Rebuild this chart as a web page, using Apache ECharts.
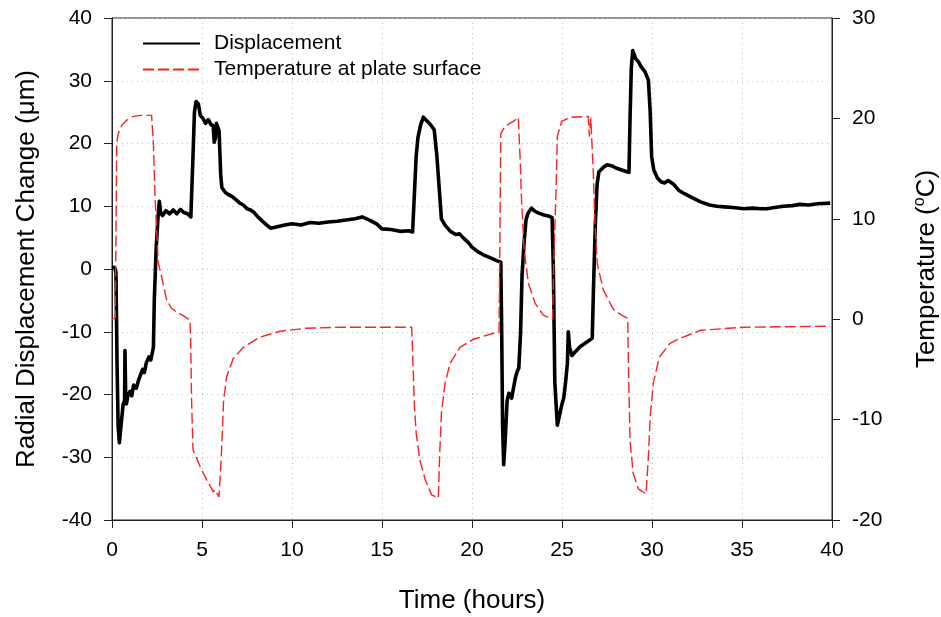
<!DOCTYPE html>
<html>
<head>
<meta charset="utf-8">
<title>Radial displacement and plate temperature</title>
<script src="https://cdn.jsdelivr.net/npm/echarts@6/dist/echarts.min.js"></script>
<style>
  html, body { margin: 0; padding: 0; background: #fff; }
  #chart { width: 941px; height: 617px; }
</style>
</head>
<body>
<div id="chart"></div>
<script>
// Displacement record (hours, µm)
const dispTime = [
  0.00, 0.15, 0.22, 0.28, 0.34, 0.41, 0.50, 0.62, 0.70, 0.72, 0.76, 0.80, 0.90, 1.00, 1.10, 1.20, 1.35, 1.50, 1.70, 1.80,
  1.90, 2.05, 2.15, 2.25, 2.30, 2.35, 2.45, 2.55, 2.63, 2.70, 2.80, 3.00, 3.20, 3.40, 3.60, 3.80, 4.00, 4.20, 4.38, 4.43,
  4.50, 4.58, 4.67, 4.80, 4.90, 5.05, 5.20, 5.35, 5.50, 5.62, 5.68, 5.75, 5.80, 5.90, 5.95, 6.04, 6.10, 6.30, 6.50, 6.70,
  6.90, 7.10, 7.30, 7.50, 7.70, 7.90, 8.10, 8.40, 8.60, 8.80, 9.00, 9.30, 9.60, 10.0, 10.5, 11.0, 11.5, 12.0, 12.5, 13.0,
  13.5, 13.9, 14.3, 14.7, 15.0, 15.5, 16.0, 16.5, 16.7, 16.8, 16.9, 17.0, 17.15, 17.3, 17.5, 17.7, 17.9, 18.05, 18.2, 18.3,
  18.5, 18.8, 19.1, 19.3, 19.5, 19.8, 20.0, 20.3, 20.6, 21.0, 21.4, 21.6, 21.65, 21.7, 21.76, 21.85, 21.95, 22.05, 22.2, 22.3,
  22.4, 22.5, 22.6, 22.7, 22.78, 22.9, 23.0, 23.1, 23.3, 23.5, 23.7, 24.0, 24.3, 24.45, 24.52, 24.6, 24.74, 24.85, 25.0, 25.1,
  25.2, 25.3, 25.35, 25.42, 25.55, 25.7, 26.0, 26.3, 26.55, 26.68, 26.75, 26.85, 26.95, 27.05, 27.3, 27.5, 27.8, 28.0, 28.2, 28.4,
  28.6, 28.72, 28.78, 28.85, 28.93, 29.1, 29.25, 29.4, 29.6, 29.8, 29.9, 29.98, 30.1, 30.3, 30.5, 30.7, 30.9, 31.0, 31.2, 31.5,
  31.8, 32.2, 32.7, 33.2, 33.6, 34.0, 34.5, 35.1, 35.6, 36.0, 36.4, 36.8, 37.3, 37.8, 38.2, 38.7, 39.2, 39.9
];
const dispValue = [
  0.3, 0.2, -0.5, -15, -25, -27.7, -25, -21.5, -21, -13, -20, -21.5, -20, -19.5, -20.2, -18.5, -19, -17.5, -16, -16.5,
  -15, -14, -14.5, -13.2, -12.5, -5, 3, 8, 10.8, 9, 8.5, 9.3, 8.8, 9.4, 8.8, 9.5, 9.0, 8.8, 8.3, 8.5,
  18, 25, 26.7, 26.3, 24.5, 24.0, 23.2, 23.8, 23.0, 22.8, 20.2, 21, 23.2, 23.5, 22, 15, 13, 12.2, 11.8, 11.5,
  11.0, 10.5, 10.2, 9.6, 9.4, 9, 8.3, 7.5, 7.0, 6.5, 6.6, 6.8, 7.0, 7.2, 7.0, 7.4, 7.3, 7.5, 7.6, 7.8,
  8.0, 8.3, 7.8, 7.2, 6.4, 6.3, 6.0, 6.1, 5.9, 12, 18, 21, 23, 24.2, 23.6, 23, 22.2, 18, 12, 8,
  7, 6.0, 5.5, 5.6, 5.0, 4.2, 3.5, 2.8, 2.3, 1.8, 1.3, 1.1, -10, -25, -31.2, -27, -21, -19.8, -20.6, -20.4,
  -17.5, -16.4, -15.8, -10, -1, 4.5, 7.8, 8.8, 9.7, 9.2, 8.9, 8.6, 8.4, 8.2, 0, -18, -24.9, -23.5, -21.5, -20.5,
  -18, -15, -10, -12.5, -13.8, -13.3, -12.4, -11.8, -11.3, -11, -3, 7, 13.5, 15.5, 16.2, 16.6, 16.4, 16.1, 15.9, 15.7,
  15.5, 15.4, 24, 32, 34.8, 33.5, 33, 32.2, 31.5, 30.1, 25, 17.9, 15.8, 14.5, 13.9, 13.7, 14.1, 14.2, 13.5, 12.5,
  12.0, 11.4, 10.7, 10.2, 10.0, 9.9, 9.8, 9.6, 9.7, 9.6, 9.6, 9.8, 10.0, 10.1, 10.3, 10.2, 10.4, 10.5
];

// Plate surface temperature (hours, °C)
const tempTime = [
  0.00, 0.18, 0.22, 0.26, 0.35, 0.54, 0.80, 1.17, 1.60, 2.20, 2.30, 2.39, 2.57, 2.76, 3.04, 3.30, 3.60, 4.00, 4.33, 4.37,
  4.42, 4.50, 4.90, 5.26, 5.63, 5.72, 5.94, 6.00, 6.09, 6.20, 6.37, 6.74, 7.30, 8.20, 9.33, 10.8, 12.7, 14.9, 16.65, 16.74,
  16.8, 16.9, 17.1, 17.4, 17.76, 18.13, 18.2, 18.3, 18.5, 18.78, 19.33, 20.07, 21.2, 21.5, 21.55, 21.6, 21.83, 22.1, 22.3, 22.57,
  22.67, 22.76, 22.9, 23.13, 23.5, 23.96, 24.48, 24.55, 24.67, 24.74, 24.98, 25.44, 26.46, 26.52, 26.6, 26.66, 26.74, 26.83, 26.96, 27.3,
  27.85, 28.3, 28.65, 28.7, 28.78, 28.96, 29.24, 29.67, 29.8, 29.9, 30.07, 30.4, 31.0, 31.56, 32.7, 35.1, 39.9
];
const tempValue = [
  0.0, 0.1, 8, 17.5, 18.5, 19.3, 19.8, 20.2, 20.3, 20.3, 17.5, 12.2, 5.6, 4.2, 1.9, 1.1, 0.7, 0.3, -0.1, -2,
  -8, -13.0, -14.7, -16.0, -17.2, -17.0, -17.7, -16, -13.0, -8.1, -5.7, -3.9, -2.8, -1.8, -1.2, -0.9, -0.8, -0.8, -0.8, -5.4,
  -8.7, -11.4, -14.0, -16.0, -17.5, -17.8, -13.7, -9.4, -6.4, -4.4, -2.8, -2.0, -1.4, -1.3, 8, 18.5, 19.2, 19.5, 19.7, 20.1,
  16.2, 11.5, 6.9, 3.6, 1.6, 0.4, 0.0, 6.2, 12.8, 18.2, 19.7, 20.1, 20.2, 18.2, 20.0, 20.0, 14.5, 9.5, 5.5, 2.9,
  1.0, 0.4, 0.1, -5.4, -12.1, -15.4, -16.9, -17.4, -13.7, -9.7, -6.4, -3.8, -2.4, -1.9, -1.1, -0.8, -0.7
];

const FONT = "'Liberation Sans', Arial, sans-serif";
const zip = (xs, ys) => xs.map((x, i) => [x, ys[i]]);

const gridDots = { show: true, lineStyle: { color: '#bdbdbd', width: 1, type: [1, 4] } };
const axisBlack = { show: true, onZero: false, lineStyle: { color: '#222', width: 1 } };
const tickOut = { show: true, inside: false, length: 8, lineStyle: { color: '#222', width: 1 } };
const tickText = { color: '#000', fontFamily: FONT, fontSize: 21 };

const chart = echarts.init(document.getElementById('chart'), null, { renderer: 'canvas' });
chart.setOption({
  backgroundColor: '#fff',
  animation: false,
  grid: {
    left: 112, right: 109, top: 18, bottom: 97,
    show: true, borderColor: '#222', borderWidth: 1,
    containLabel: false, outerBoundsMode: 'none'
  },
  legend: {
    orient: 'vertical', left: 142, top: 33, padding: 0,
    itemWidth: 57, itemHeight: 14, itemGap: 5,
    itemStyle: { opacity: 0 },
    data: ['Displacement', 'Temperature at plate surface'],
    textStyle: { color: '#000', fontFamily: FONT, fontSize: 21, padding: [0, 0, 0, 9] }
  },
  xAxis: {
    type: 'value', min: 0, max: 40, interval: 5,
    name: 'Time (hours)', nameLocation: 'middle', nameGap: 68,
    nameTextStyle: { color: '#000', fontFamily: FONT, fontSize: 26 },
    axisLine: axisBlack, axisTick: tickOut, splitLine: gridDots,
    axisLabel: Object.assign({ margin: 20 }, tickText)
  },
  yAxis: [
    {
      type: 'value', min: -40, max: 40, interval: 10, position: 'left',
      name: 'Radial Displacement Change (μm)', nameLocation: 'middle', nameGap: 72, nameRotate: 90,
      nameTextStyle: { color: '#000', fontFamily: FONT, fontSize: 26 },
      axisLine: axisBlack, axisTick: tickOut, splitLine: gridDots,
      axisLabel: Object.assign({ margin: 20 }, tickText)
    },
    {
      type: 'value', min: -20, max: 30, interval: 10, position: 'right',
      name: '{t|Temperature (}{s|o}{t|C)}', nameLocation: 'middle', nameGap: 80, nameRotate: 90,
      nameTextStyle: {
        color: '#000', fontFamily: FONT, fontSize: 26,
        rich: {
          t: { color: '#000', fontFamily: FONT, fontSize: 26 },
          s: { color: '#000', fontFamily: FONT, fontSize: 16, padding: [0, 0, 14, 0] }
        }
      },
      axisLine: axisBlack, axisTick: tickOut, splitLine: { show: false },
      axisLabel: Object.assign({ margin: 20 }, tickText)
    }
  ],
  series: [
    {
      name: 'Displacement', type: 'line', yAxisIndex: 0,
      data: zip(dispTime, dispValue),
      showSymbol: false, symbol: 'none', smooth: false,
      lineStyle: { color: '#000', width: 3.6, join: 'round' },
      itemStyle: { color: '#000' }, z: 2
    },
    {
      name: 'Temperature at plate surface', type: 'line', yAxisIndex: 1,
      data: zip(tempTime, tempValue),
      showSymbol: false, symbol: 'none', smooth: false,
      lineStyle: { color: '#ff2020', width: 1.4, type: [11, 4] },
      itemStyle: { color: '#ff2020' }, z: 3
    }
  ]
});
</script>
</body>
</html>
